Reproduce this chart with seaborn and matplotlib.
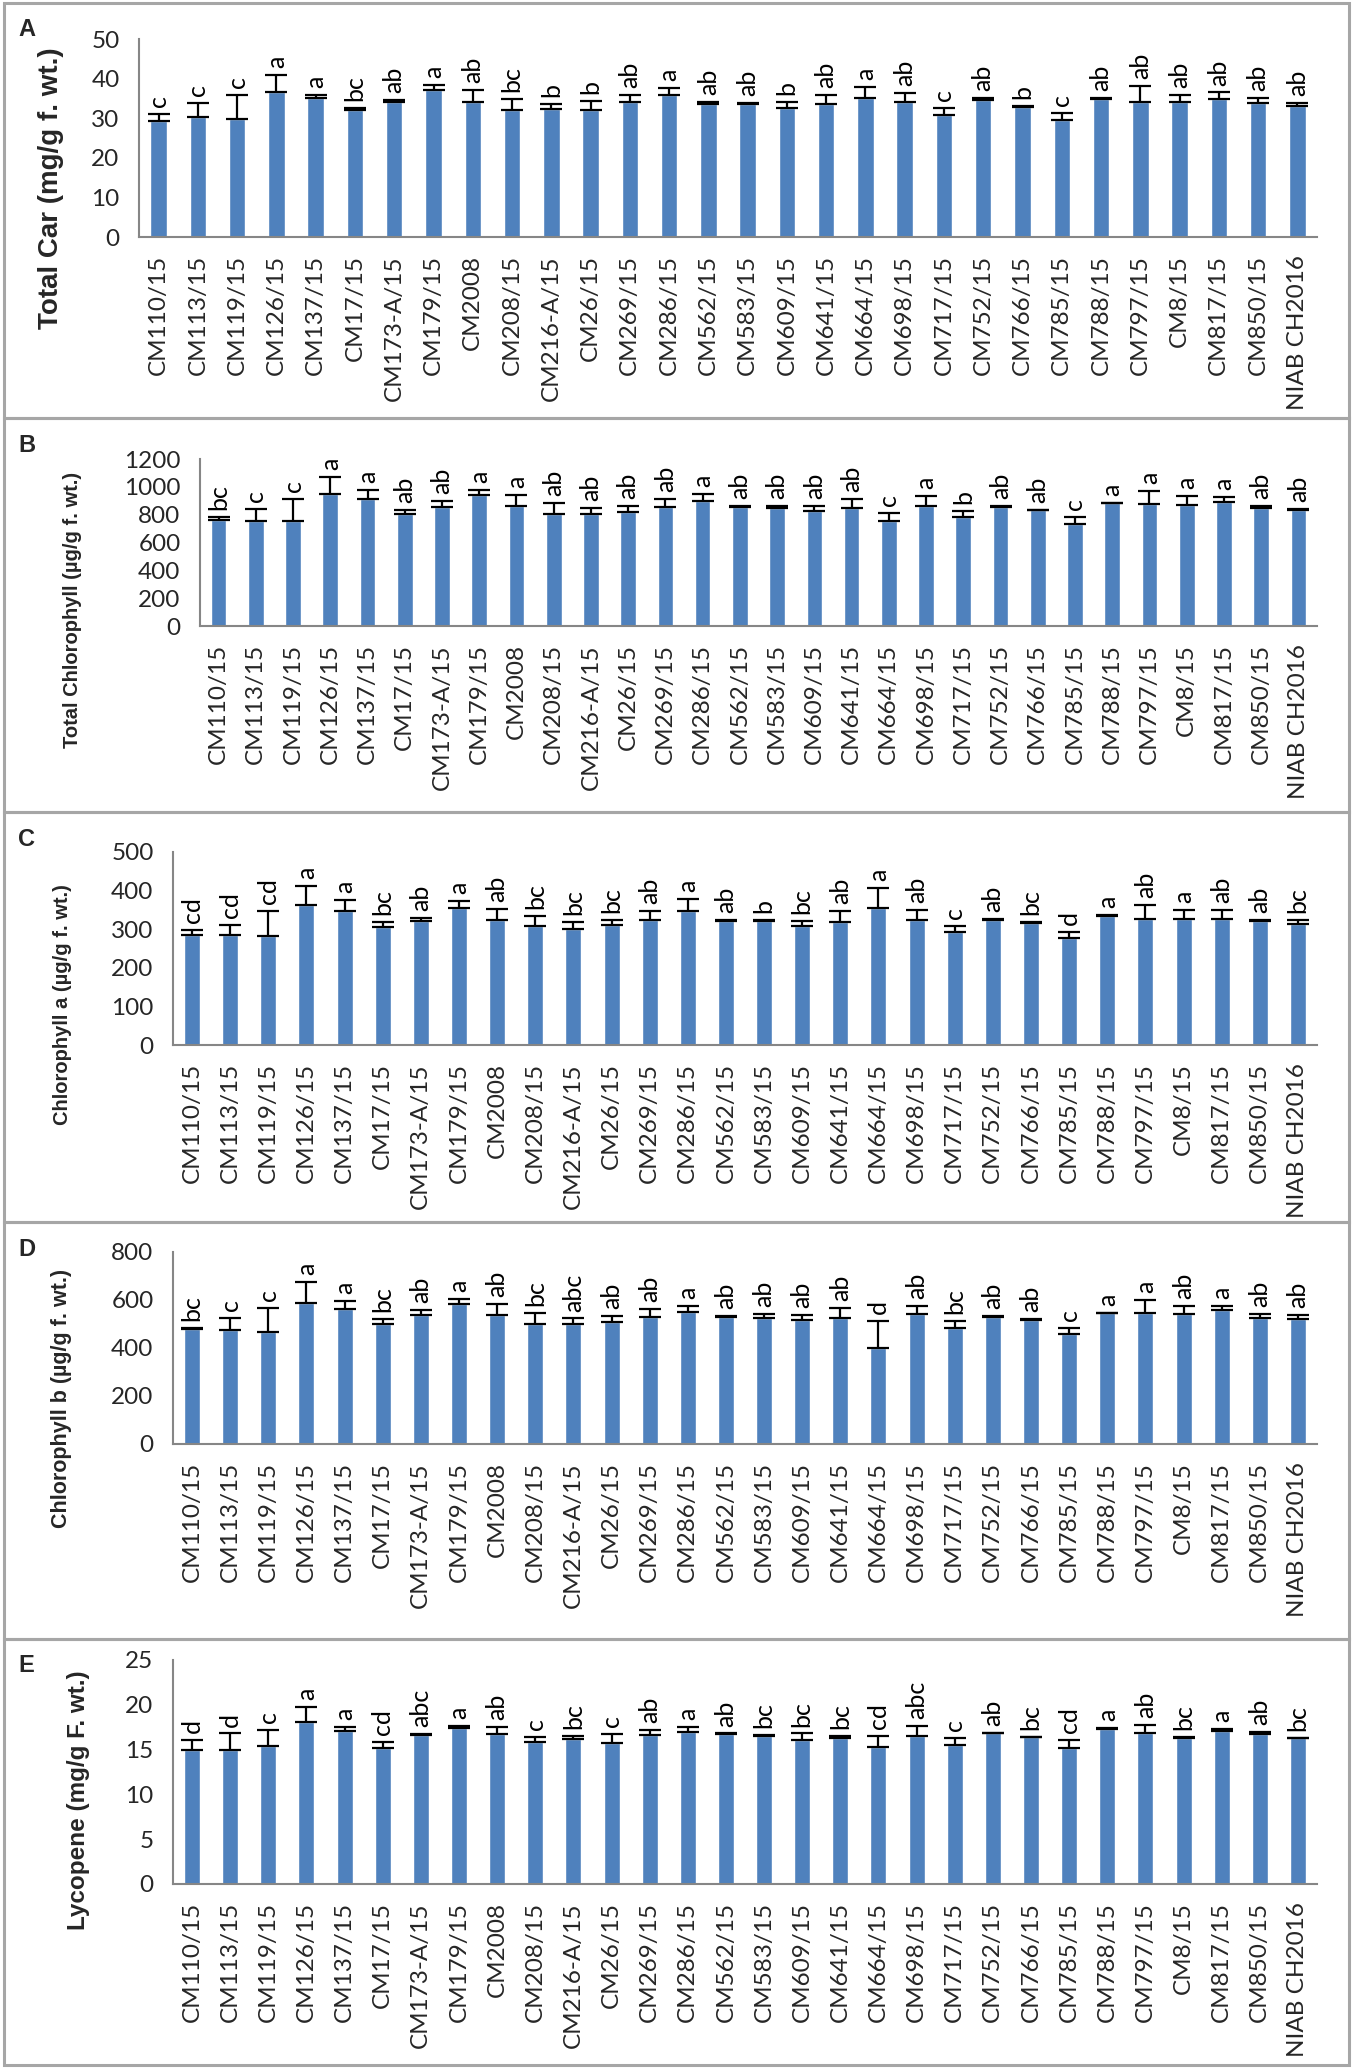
import numpy as np
import pandas as pd
import matplotlib
matplotlib.use("Agg")
import matplotlib.pyplot as plt
from matplotlib.patches import Rectangle
import seaborn as sns

sns.set_style("white")
plt.rcParams['font.family'] = ['Lato', 'DejaVu Sans']

# ---------------------------------------------------------------------------
# Data
# ---------------------------------------------------------------------------
genotypes = ['CM110/15', 'CM113/15', 'CM119/15', 'CM126/15', 'CM137/15',
             'CM17/15', 'CM173-A/15', 'CM179/15', 'CM2008', 'CM208/15',
             'CM216-A/15', 'CM26/15', 'CM269/15', 'CM286/15', 'CM562/15',
             'CM583/15', 'CM609/15', 'CM641/15', 'CM664/15', 'CM698/15',
             'CM717/15', 'CM752/15', 'CM766/15', 'CM785/15', 'CM788/15',
             'CM797/15', 'CM8/15', 'CM817/15', 'CM850/15', 'NIAB CH2016']

car_mean = [29.3, 30.2, 29.7, 36.6, 35.0, 32.0, 34.0, 37.1, 34.1, 32.0,
            32.3, 32.1, 34.1, 35.8, 33.5, 33.5, 32.7, 33.5, 35.0, 34.1,
            30.7, 34.5, 32.9, 29.6, 34.9, 34.2, 34.2, 34.8, 33.8, 33.1]
car_err = [1.7, 3.6, 6.2, 4.4, 0.9, 0.7, 0.6, 1.3, 3.0, 2.8,
           1.2, 2.3, 1.8, 1.9, 0.7, 0.3, 1.5, 2.4, 3.0, 2.2,
           1.8, 0.7, 0.2, 1.7, 0.2, 4.0, 1.7, 1.7, 1.4, 0.7]
car_letters = ['c', 'c', 'c', 'a', 'a', 'bc', 'ab', 'a', 'ab', 'bc',
               'b', 'b', 'ab', 'a', 'ab', 'ab', 'b', 'ab', 'a', 'ab',
               'c', 'ab', 'b', 'c', 'ab', 'ab', 'ab', 'ab', 'ab', 'ab']

chl_mean = [764, 757, 752, 950, 915, 807, 855, 939, 865, 807,
            807, 819, 855, 898, 853, 848, 829, 848, 757, 865,
            781, 855, 833, 735, 881, 874, 869, 891, 845, 836]
chl_err = [17, 86, 163, 120, 64, 29, 41, 40, 74, 77,
           41, 46, 57, 52, 7, 17, 31, 67, 55, 66,
           43, 5, 3, 46, 3, 93, 62, 36, 20, 5]
chl_letters = ['bc', 'c', 'c', 'a', 'a', 'ab', 'ab', 'a', 'a', 'ab',
               'ab', 'ab', 'ab', 'a', 'ab', 'ab', 'ab', 'ab', 'c', 'a',
               'b', 'ab', 'ab', 'c', 'a', 'a', 'a', 'a', 'ab', 'ab']

chla_mean = [286, 286, 283, 363, 348, 305, 321, 356, 325, 307,
             301, 310, 324, 348, 322, 321, 307, 319, 356, 325,
             292, 325, 316, 276, 335, 327, 327, 327, 321, 313]
chla_err = [11, 25, 63, 49, 27, 14, 7, 16, 28, 28,
            17, 15, 22, 30, 3, 3, 14, 28, 51, 26,
            16, 2, 2, 18, 2, 36, 24, 24, 4, 12]
chla_letters = ['cd', 'cd', 'cd', 'a', 'a', 'bc', 'ab', 'a', 'ab', 'bc',
                'bc', 'bc', 'ab', 'a', 'ab', 'b', 'bc', 'ab', 'a', 'ab',
                'c', 'ab', 'bc', 'd', 'a', 'ab', 'a', 'ab', 'ab', 'bc']

chlb_mean = [478, 475, 468, 589, 564, 498, 536, 582, 537, 498,
             501, 510, 530, 551, 530, 526, 516, 526, 401, 540,
             484, 530, 516, 457, 544, 547, 540, 558, 526, 519]
chlb_err = [6, 51, 97, 85, 32, 21, 22, 21, 48, 49,
            22, 23, 31, 24, 3, 14, 20, 42, 111, 35,
            28, 3, 3, 27, 3, 52, 35, 17, 14, 18]
chlb_letters = ['bc', 'c', 'c', 'a', 'a', 'bc', 'ab', 'a', 'ab', 'bc',
                'abc', 'ab', 'ab', 'a', 'ab', 'ab', 'ab', 'ab', 'd', 'ab',
                'bc', 'ab', 'ab', 'c', 'a', 'a', 'ab', 'a', 'ab', 'ab']

lyc_mean = [14.9, 15.0, 15.4, 18.05, 17.05, 15.2, 16.6, 17.4, 16.75, 15.9,
            16.15, 15.7, 16.65, 17.0, 16.75, 16.5, 16.1, 16.35, 15.3, 16.5,
            15.55, 16.8, 16.4, 15.2, 17.35, 16.9, 16.35, 17.1, 16.75, 16.25]
lyc_err = [1.2, 1.8, 1.8, 1.75, 0.45, 0.7, 0.1, 0.2, 0.75, 0.5,
           0.35, 1.0, 0.55, 0.5, 0.05, 0.1, 0.7, 0.15, 1.2, 1.1,
           0.75, 0.05, 0.05, 0.9, 0.05, 0.8, 0.05, 0.15, 0.2, 0.05]
lyc_letters = ['d', 'd', 'c', 'a', 'a', 'cd', 'abc', 'a', 'ab', 'c',
               'bc', 'c', 'ab', 'a', 'ab', 'bc', 'bc', 'bc', 'cd', 'abc',
               'c', 'ab', 'bc', 'cd', 'a', 'ab', 'bc', 'a', 'ab', 'bc']

# ---------------------------------------------------------------------------
# Layout (pixel positions in a 1358 x 2069 canvas)
# ---------------------------------------------------------------------------
W, H = 1358, 2069
BAR_COLOR = '#4F81BD'
AXIS_GRAY = '#868686'
BOX_GRAY = '#A6A6A6'

panels = [
    # box (top, bottom), axes (left, top, bottom), ylabel centre (x, y)
    dict(tag='A', mean=car_mean, err=car_err, let=car_letters, ymax=50, step=10,
         ylabel='Total Car (mg/g f. wt.)', yls=20,
         box=(3, 418), ax=(139, 39, 237), lab=(51, 188)),
    dict(tag='B', mean=chl_mean, err=chl_err, let=chl_letters, ymax=1200, step=200,
         ylabel='Total Chlorophyll (µg/g f. wt.)', yls=14.5,
         box=(418, 812), ax=(200, 459, 626), lab=(73, 610)),
    dict(tag='C', mean=chla_mean, err=chla_err, let=chla_letters, ymax=500, step=100,
         ylabel='Chlorophyll a (µg/g f. wt.)', yls=14.5,
         box=(812, 1222), ax=(173, 852, 1045), lab=(62, 1005)),
    dict(tag='D', mean=chlb_mean, err=chlb_err, let=chlb_letters, ymax=800, step=200,
         ylabel='Chlorophyll b (µg/g f. wt.)', yls=15.5,
         box=(1222, 1639), ax=(173, 1252, 1444), lab=(62, 1398)),
    dict(tag='E', mean=lyc_mean, err=lyc_err, let=lyc_letters, ymax=25, step=5,
         ylabel='Lycopene (mg/g F. wt.)', yls=17.5,
         box=(1639, 2065), ax=(173, 1660, 1884), lab=(78, 1800)),
]

AX_RIGHT = 1317

fig = plt.figure(figsize=(W / 100, H / 100), dpi=100)


def draw_panel(p):
    left, top, bottom = p['ax']
    ax = fig.add_axes([left / W, 1 - bottom / H,
                       (AX_RIGHT - left) / W, (bottom - top) / H])
    df = pd.DataFrame({'genotype': genotypes, 'value': p['mean']})
    sns.barplot(data=df, x='genotype', y='value', order=genotypes,
                color=BAR_COLOR, saturation=1, width=0.42, ax=ax)
    x = np.arange(len(genotypes))
    mean = np.array(p['mean'], dtype=float)
    err = np.array(p['err'], dtype=float)
    ax.errorbar(x, mean, yerr=[np.zeros_like(err), err], fmt='none',
                ecolor='black', elinewidth=1.6, capsize=8, capthick=1.6)

    # significance letters just above each error bar
    for xi, top_val, txt in zip(x, mean + err, p['let']):
        ax.annotate(txt, (xi, top_val), xytext=(0, 5),
                    textcoords='offset points', rotation=90,
                    ha='center', va='bottom', fontsize=18, color='black')

    ax.set_xlim(-0.5, len(genotypes) - 0.5)
    ax.set_ylim(0, p['ymax'])
    ax.set_yticks(np.arange(0, p['ymax'] + p['step'] / 2, p['step']))
    ax.set_xlabel('')
    ax.set_ylabel('')
    ax.set_xticks(x)
    ax.set_xticklabels(genotypes, rotation=90, fontsize=17.5)
    ax.set_xticks(np.arange(-0.5, len(genotypes)), minor=True)
    ax.tick_params(axis='x', which='major', length=0, pad=13)
    ax.tick_params(axis='x', which='minor', length=8, width=1.5,
                   color=AXIS_GRAY, direction='out')
    ax.tick_params(axis='y', length=6, width=1.5, color=AXIS_GRAY,
                   direction='out', labelsize=17.5, pad=8)
    sns.despine(ax=ax)
    for side in ('left', 'bottom'):
        ax.spines[side].set_color(AXIS_GRAY)
        ax.spines[side].set_linewidth(1.5)

    # panel frame, panel letter and axis title
    btop, bbot = p['box']
    fig.patches.append(Rectangle((4 / W, 1 - bbot / H), 1345 / W,
                                 (bbot - btop) / H, transform=fig.transFigure,
                                 fill=False, edgecolor=BOX_GRAY, linewidth=2.2))
    fig.text(18 / W, 1 - (btop + 27) / H, p['tag'], fontsize=17,
             fontweight='bold', family='Liberation Sans', ha='left', va='center')
    lx, ly = p['lab']
    fig.text(lx / W, 1 - ly / H, p['ylabel'], rotation=90, fontsize=p['yls'],
             fontweight='bold', family='Liberation Sans',
             ha='center', va='center')


for p in panels:
    draw_panel(p)

fig.savefig('out.png', dpi=100)
